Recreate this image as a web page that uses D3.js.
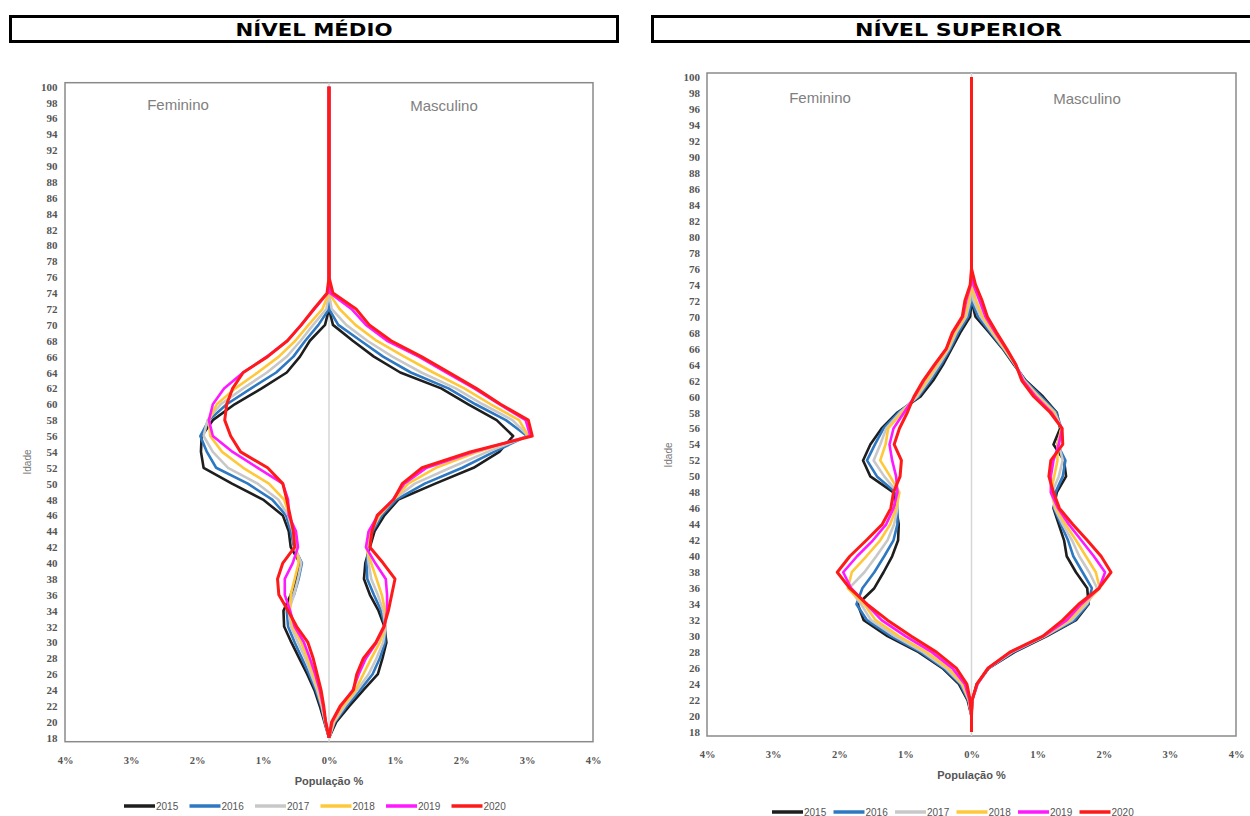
<!DOCTYPE html>
<html><head><meta charset="utf-8">
<script src="https://cdn.jsdelivr.net/npm/d3@7"></script>
<style>body{margin:0;background:#fff;} svg{display:block;}</style>
</head><body>
<svg id="c" width="1250" height="816"></svg>
<script>
// ---------- DATA ----------
const ages = [18,20,22,24,26,28,30,32,34,36,38,40,42,44,46,48,50,52,54,56,58,60,62,64,66,68,70,72,74,76,100];
const years = ["2015","2016","2017","2018","2019","2020"];
const ageTickLabels = [18,20,22,24,26,28,30,32,34,36,38,40,42,44,46,48,50,52,54,56,58,60,62,64,66,68,70,72,74,76,78,80,82,84,86,88,90,92,94,96,98,100];
const xTickValues = [-4,-3,-2,-1,0,1,2,3,4];

// Nível Médio – Feminino (% of population, magnitude)
const medioF2015 = [0,0.07,0.14,0.22,0.33,0.45,0.57,0.68,0.69,0.58,0.49,0.44,0.58,0.61,0.70,1.00,1.47,1.90,1.94,1.93,1.76,1.43,1.02,0.64,0.44,0.29,0.06,0,0,0,0];
const medioF2016 = [0,0.06,0.12,0.20,0.30,0.41,0.52,0.62,0.64,0.53,0.46,0.41,0.53,0.58,0.65,0.86,1.23,1.71,1.85,1.95,1.82,1.55,1.18,0.80,0.54,0.36,0.16,0,0,0,0];
const medioF2017 = [0,0.06,0.11,0.18,0.27,0.36,0.47,0.58,0.61,0.53,0.47,0.42,0.52,0.55,0.62,0.77,1.08,1.53,1.76,1.90,1.84,1.64,1.30,0.94,0.64,0.43,0.24,0.04,0,0,0];
const medioF2018 = [0,0.05,0.10,0.16,0.24,0.33,0.42,0.55,0.59,0.58,0.52,0.46,0.50,0.53,0.60,0.68,0.91,1.30,1.62,1.80,1.82,1.70,1.42,1.08,0.76,0.51,0.31,0.10,0,0,0];
const medioF2019 = [0,0.05,0.09,0.14,0.21,0.29,0.38,0.52,0.59,0.67,0.67,0.55,0.47,0.50,0.61,0.62,0.70,1.08,1.46,1.76,1.82,1.76,1.59,1.30,0.94,0.63,0.42,0.22,0.02,0,0];
const medioF2020 = [0,0.05,0.08,0.12,0.18,0.24,0.32,0.49,0.62,0.76,0.78,0.70,0.52,0.54,0.59,0.64,0.70,0.93,1.34,1.49,1.58,1.55,1.46,1.30,0.93,0.63,0.42,0.23,0.03,0,0];
// Nível Médio – Masculino
const medioM2015 = [0,0.11,0.31,0.52,0.74,0.81,0.87,0.84,0.75,0.62,0.53,0.55,0.62,0.69,0.84,1.05,1.61,2.19,2.58,2.79,2.54,2.11,1.70,1.08,0.68,0.36,0.06,0,0,0,0];
const medioM2016 = [0,0.09,0.27,0.47,0.66,0.77,0.85,0.85,0.79,0.68,0.58,0.57,0.60,0.66,0.80,1.02,1.45,2.02,2.50,3.00,2.68,2.22,1.81,1.24,0.82,0.48,0.14,0,0,0,0];
const medioM2017 = [0,0.08,0.24,0.43,0.60,0.72,0.82,0.86,0.82,0.74,0.64,0.60,0.58,0.64,0.77,0.98,1.30,1.84,2.40,3.02,2.78,2.33,1.92,1.40,0.96,0.58,0.26,0.04,0,0,0];
const medioM2018 = [0,0.07,0.21,0.40,0.52,0.64,0.77,0.85,0.85,0.80,0.72,0.64,0.56,0.62,0.76,0.98,1.20,1.62,2.25,3.02,2.88,2.45,2.05,1.58,1.14,0.72,0.40,0.16,0,0,0];
const medioM2019 = [0,0.05,0.18,0.36,0.45,0.56,0.72,0.84,0.88,0.88,0.86,0.70,0.56,0.60,0.74,0.97,1.14,1.48,2.18,3.05,2.98,2.58,2.20,1.78,1.36,0.88,0.56,0.34,0.02,0,0];
const medioM2020 = [0,0.04,0.17,0.37,0.42,0.52,0.71,0.83,0.90,0.95,1.00,0.82,0.62,0.65,0.73,0.98,1.11,1.41,2.14,3.08,3.02,2.60,2.23,1.82,1.40,0.94,0.61,0.41,0.06,0,0];

// Nível Superior – Feminino
const supF2015 = [0,0,0.06,0.19,0.44,0.80,1.27,1.63,1.72,1.47,1.33,1.20,1.11,1.10,1.14,1.18,1.53,1.64,1.53,1.36,1.12,0.77,0.58,0.43,0.30,0.17,0.02,0,0,0,0];
const supF2016 = [0,0,0.05,0.17,0.42,0.77,1.22,1.58,1.74,1.65,1.47,1.32,1.18,1.12,1.12,1.15,1.43,1.58,1.46,1.33,1.10,0.80,0.62,0.46,0.32,0.20,0.05,0,0,0,0];
const supF2017 = [0,0,0.04,0.15,0.39,0.73,1.16,1.52,1.67,1.85,1.62,1.44,1.27,1.17,1.12,1.12,1.32,1.48,1.38,1.29,1.08,0.82,0.65,0.49,0.34,0.23,0.08,0.02,0,0,0];
const supF2018 = [0,0,0.04,0.13,0.35,0.68,1.10,1.45,1.62,1.87,1.81,1.59,1.38,1.23,1.14,1.09,1.23,1.38,1.30,1.26,1.05,0.84,0.68,0.52,0.36,0.25,0.10,0.04,0,0,0];
const supF2019 = [0,0,0.03,0.10,0.29,0.60,1.00,1.36,1.59,1.82,1.94,1.73,1.49,1.29,1.18,1.12,1.14,1.20,1.24,1.18,1.02,0.86,0.72,0.55,0.38,0.28,0.13,0.08,0.01,0,0];
const supF2020 = [0,0,0.02,0.07,0.23,0.53,0.91,1.27,1.58,1.84,2.03,1.84,1.59,1.35,1.22,1.18,1.08,1.06,1.17,1.09,0.97,0.87,0.73,0.56,0.38,0.29,0.14,0.10,0.02,0,0];
// Nível Superior – Masculino
const supM2015 = [0,0,0.01,0.08,0.26,0.65,1.14,1.58,1.77,1.75,1.58,1.44,1.40,1.32,1.24,1.29,1.43,1.40,1.24,1.34,1.29,1.08,0.82,0.64,0.47,0.27,0.06,0,0,0,0];
const supM2016 = [0,0,0.01,0.09,0.26,0.63,1.12,1.56,1.76,1.82,1.68,1.54,1.46,1.35,1.25,1.27,1.38,1.42,1.30,1.36,1.28,1.05,0.81,0.65,0.48,0.29,0.10,0,0,0,0];
const supM2017 = [0,0,0.01,0.09,0.25,0.61,1.11,1.52,1.74,1.90,1.78,1.63,1.52,1.38,1.26,1.22,1.32,1.38,1.32,1.36,1.26,1.02,0.80,0.66,0.49,0.31,0.14,0.03,0,0,0];
const supM2018 = [0,0,0.01,0.09,0.25,0.60,1.10,1.48,1.70,1.94,1.88,1.73,1.58,1.42,1.28,1.20,1.25,1.30,1.30,1.36,1.24,1.00,0.79,0.66,0.50,0.33,0.17,0.07,0,0,0];
const supM2019 = [0,0,0.01,0.09,0.25,0.59,1.09,1.44,1.66,1.93,2.02,1.85,1.66,1.47,1.31,1.20,1.20,1.24,1.32,1.37,1.21,0.97,0.78,0.67,0.52,0.36,0.21,0.12,0.03,0,0];
const supM2020 = [0,0,0.01,0.08,0.25,0.58,1.08,1.38,1.62,1.93,2.11,1.96,1.75,1.53,1.33,1.24,1.17,1.20,1.38,1.37,1.19,0.94,0.76,0.67,0.53,0.38,0.24,0.16,0.06,0,0];

// ---------- STYLE ----------
const colors = ["#1e1e1e","#2e78c2","#c8c8c8","#ffc83a","#ff19ff","#ff1a1a"];
const widths = [2.6,2.6,2.6,2.6,2.6,3.0];

const panels = [
  { title:"NÍVEL MÉDIO", box:{x:9,y:15,w:610,h:28}, titleLen:157,
    plot:{l:65,r:593,t:82.7,b:741.7},
    fem:[medioF2015,medioF2016,medioF2017,medioF2018,medioF2019,medioF2020],
    masc:[medioM2015,medioM2016,medioM2017,medioM2018,medioM2019,medioM2020],
    xLabY:766, xTitY:785, legY:806, legX0:124, legStep:65.5,
    idade:{x:31,y:462}, femLab:{x:178,y:110}, mascLab:{x:444,y:111}, yLabX:57.5 },
  { title:"NÍVEL SUPERIOR", box:{x:651,y:15,w:615,h:28}, titleLen:207,
    plot:{l:707,r:1236,t:73,b:736},
    fem:[supF2015,supF2016,supF2017,supF2018,supF2019,supF2020],
    masc:[supM2015,supM2016,supM2017,supM2018,supM2019,supM2020],
    xLabY:760, xTitY:779, legY:812, legX0:772, legStep:61.5,
    idade:{x:672,y:455}, femLab:{x:820,y:103}, mascLab:{x:1087,y:104}, yLabX:700 }
];

const svg = d3.select("#c");
svg.append("rect").attr("width",1250).attr("height",816).attr("fill","#fff");

panels.forEach(p => {
  const g = svg.append("g");
  // title box
  g.append("rect").attr("x",p.box.x+1.5).attr("y",p.box.y+1.5)
    .attr("width",p.box.w-3).attr("height",p.box.h-3)
    .attr("fill","#fff").attr("stroke","#000").attr("stroke-width",3);
  g.append("text").attr("x",p.box.x+p.box.w/2).attr("y",p.box.y+21)
    .attr("text-anchor","middle").attr("font-family","DejaVu Sans")
    .attr("font-weight","bold").attr("font-size",18)
    .attr("textLength",p.titleLen).attr("lengthAdjust","spacingAndGlyphs")
    .attr("fill","#000").text(p.title);

  const x = d3.scaleLinear().domain([-4,4]).range([p.plot.l,p.plot.r]);
  const y = d3.scaleLinear().domain([17.5,100.5]).range([p.plot.b,p.plot.t]);

  // plot border
  g.append("rect").attr("x",p.plot.l).attr("y",p.plot.t)
    .attr("width",p.plot.r-p.plot.l).attr("height",p.plot.b-p.plot.t)
    .attr("fill","none").attr("stroke","#8a8a8a").attr("stroke-width",1.5);

  // center line
  g.append("line").attr("x1",x(0)).attr("x2",x(0)).attr("y1",p.plot.t).attr("y2",p.plot.b)
    .attr("stroke","#d6d6d6").attr("stroke-width",1.5);

  // y axis labels
  const yAxis = d3.axisLeft(y).tickValues(ageTickLabels).tickSize(0).tickPadding(0);
  const ya = g.append("g").attr("transform",`translate(${p.yLabX},0)`).call(yAxis);
  ya.select(".domain").remove();
  ya.selectAll("text").attr("font-family","Liberation Serif").attr("font-size",11)
    .attr("font-weight","bold").attr("fill","#555");

  // x axis labels
  const xAxis = d3.axisBottom(x).tickValues(xTickValues).tickSize(0).tickPadding(0)
    .tickFormat(d => Math.abs(d) + "%");
  const xa = g.append("g").attr("transform",`translate(0,${p.xLabY-9})`).call(xAxis);
  xa.select(".domain").remove();
  xa.selectAll("text").attr("font-family","Liberation Serif").attr("font-size",10.5)
    .attr("font-weight","bold").attr("fill","#555");

  // axis titles
  g.append("text").attr("x",x(0)).attr("y",p.xTitY).attr("text-anchor","middle")
    .attr("font-family","Liberation Sans").attr("font-weight","bold").attr("font-size",11)
    .attr("fill","#555").text("População %");
  g.append("text").attr("transform",`translate(${p.idade.x},${p.idade.y}) rotate(-90)`)
    .attr("text-anchor","middle").attr("font-family","Liberation Sans").attr("font-size",10)
    .attr("fill","#777").text("Idade");

  g.append("text").attr("x",p.femLab.x).attr("y",p.femLab.y).attr("text-anchor","middle")
    .attr("font-family","Liberation Sans Narrow, Liberation Sans").attr("font-stretch","condensed")
    .attr("font-size",15).attr("fill","#808080").text("Feminino");
  g.append("text").attr("x",p.mascLab.x).attr("y",p.mascLab.y).attr("text-anchor","middle")
    .attr("font-family","Liberation Sans Narrow, Liberation Sans").attr("font-stretch","condensed")
    .attr("font-size",15).attr("fill","#808080").text("Masculino");

  // lines
  const clip = "clip" + p.plot.l;
  svg.append("clipPath").attr("id",clip).append("rect")
    .attr("x",p.plot.l).attr("y",p.plot.t-2).attr("width",p.plot.r-p.plot.l).attr("height",p.plot.b-p.plot.t+2);
  const lg = g.append("g").attr("clip-path",`url(#${clip})`);
  const lineF = d3.line().x(d => x(-d.v)).y(d => y(d.a)).curve(d3.curveLinear);
  const lineM = d3.line().x(d => x(d.v)).y(d => y(d.a)).curve(d3.curveLinear);
  years.forEach((yr,i) => {
    const f = ages.map((a,k) => ({a, v:p.fem[i][k]}));
    const m = ages.map((a,k) => ({a, v:p.masc[i][k]}));
    lg.append("path").attr("d",lineF(f)).attr("fill","none").attr("stroke",colors[i])
      .attr("stroke-width",widths[i]).attr("stroke-linejoin","round");
    lg.append("path").attr("d",lineM(m)).attr("fill","none").attr("stroke",colors[i])
      .attr("stroke-width",widths[i]).attr("stroke-linejoin","round");
  });

  // legend
  years.forEach((yr,i) => {
    const lx = p.legX0 + i*p.legStep;
    g.append("line").attr("x1",lx).attr("x2",lx+31).attr("y1",p.legY).attr("y2",p.legY)
      .attr("stroke",colors[i]).attr("stroke-width",3.5);
    g.append("text").attr("x",lx+32).attr("y",p.legY+3.5).attr("font-family","Liberation Sans")
      .attr("font-size",10).attr("fill","#555").text(yr);
  });
});
</script>
</body></html>
